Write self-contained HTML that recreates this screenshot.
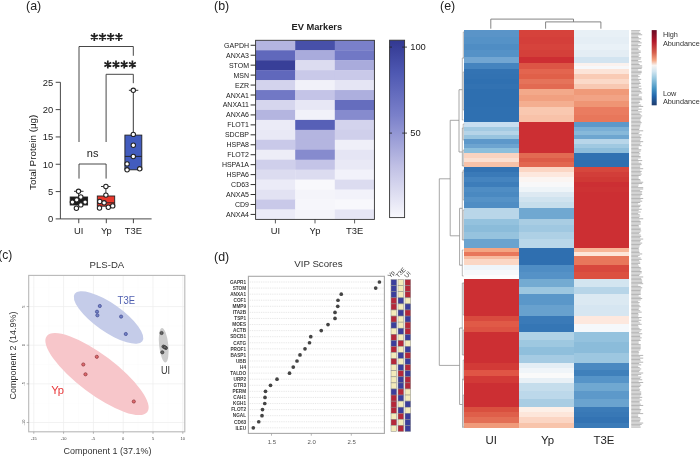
<!DOCTYPE html>
<html><head><meta charset="utf-8"><style>html,body{margin:0;padding:0;background:#fff;}svg{display:block;will-change:transform;}</style></head>
<body><svg width="700" height="457" viewBox="0 0 700 457">
<rect width="700" height="457" fill="#fff"/>
<text x="26.1" y="9.9" font-size="12.4" fill="#222" font-family="Liberation Sans, sans-serif">(a)</text>
<g stroke="#333" stroke-width="0.9" fill="none">
<path d="M60.4 82.30 V218.9 H151.6"/>
<path d="M55.7 218.90 H60.4"/>
<path d="M55.7 191.58 H60.4"/>
<path d="M55.7 164.26 H60.4"/>
<path d="M55.7 136.94 H60.4"/>
<path d="M55.7 109.62 H60.4"/>
<path d="M55.7 82.30 H60.4"/>
<path d="M78.75 218.9 V223.2"/>
<path d="M106.3 218.9 V223.2"/>
<path d="M133.4 218.9 V223.2"/>
<path d="M79 142 V46.5 H133.3 V55.8"/>
<path d="M106.1 142 V74.3 H133.3 V83.2"/>
<path d="M79 178.6 V164 H106.1 V178.6"/>
</g>
<text x="53.2" y="222.30" font-size="9.4" text-anchor="end" fill="#222" font-family="Liberation Sans, sans-serif">0</text>
<text x="53.2" y="194.98" font-size="9.4" text-anchor="end" fill="#222" font-family="Liberation Sans, sans-serif">5</text>
<text x="53.2" y="167.66" font-size="9.4" text-anchor="end" fill="#222" font-family="Liberation Sans, sans-serif">10</text>
<text x="53.2" y="140.34" font-size="9.4" text-anchor="end" fill="#222" font-family="Liberation Sans, sans-serif">15</text>
<text x="53.2" y="113.02" font-size="9.4" text-anchor="end" fill="#222" font-family="Liberation Sans, sans-serif">20</text>
<text x="53.2" y="85.70" font-size="9.4" text-anchor="end" fill="#222" font-family="Liberation Sans, sans-serif">25</text>
<text transform="translate(36.3,152.3) rotate(-90)" font-size="9.9" text-anchor="middle" fill="#222" font-family="Liberation Sans, sans-serif">Total Protein (μg)</text>
<text x="78.75" y="233.5" font-size="9.4" text-anchor="middle" fill="#222" font-family="Liberation Sans, sans-serif">UI</text>
<text x="106.3" y="233.5" font-size="9.4" text-anchor="middle" fill="#222" font-family="Liberation Sans, sans-serif">Yp</text>
<text x="133.4" y="233.5" font-size="9.4" text-anchor="middle" fill="#222" font-family="Liberation Sans, sans-serif">T3E</text>
<path d="M94.30 33.05 L94.30 40.95 M90.88 35.02 L97.72 38.98 M90.88 38.98 L97.72 35.02 M102.50 33.05 L102.50 40.95 M99.08 35.02 L105.92 38.98 M99.08 38.98 L105.92 35.02 M110.70 33.05 L110.70 40.95 M107.28 35.02 L114.12 38.98 M107.28 38.98 L114.12 35.02 M118.90 33.05 L118.90 40.95 M115.48 35.02 L122.32 38.98 M115.48 38.98 L122.32 35.02 M107.80 60.55 L107.80 68.45 M104.38 62.52 L111.22 66.47 M104.38 66.47 L111.22 62.52 M116.00 60.55 L116.00 68.45 M112.58 62.52 L119.42 66.47 M112.58 66.47 L119.42 62.52 M124.20 60.55 L124.20 68.45 M120.78 62.52 L127.62 66.47 M120.78 66.47 L127.62 62.52 M132.40 60.55 L132.40 68.45 M128.98 62.52 L135.82 66.47 M128.98 66.47 L135.82 62.52 " stroke="#222" stroke-width="1.7" fill="none"/>
<text x="92.6" y="157.3" font-size="11" text-anchor="middle" fill="#222" font-family="Liberation Sans, sans-serif">ns</text>
<g stroke="#222" stroke-width="0.9">
<path d="M78.6 197 V191.3 M74 191.3 H83.5" fill="none"/>
<rect x="70.2" y="197" width="17.4" height="8" fill="#1a1a1a"/>
<path d="M105.9 196 V186.5 M101 186.5 H110.6" fill="none"/>
<rect x="97.3" y="196" width="17.4" height="10.2" fill="#e8382c"/>
<path d="M97.3 202.8 H114.7" fill="none"/>
<path d="M133.3 135.1 V90.3 M128.9 90.3 H138.3" fill="none"/>
<rect x="124.9" y="135.1" width="16.9" height="34.7" fill="#425cbe"/>
<path d="M124.9 156.4 H141.8" fill="none"/>
<circle cx="78.5" cy="191.3" r="2.2" fill="#fff" stroke-width="1.05"/>
<circle cx="80.8" cy="197" r="2.2" fill="#fff" stroke-width="1.05"/>
<circle cx="76.7" cy="199.8" r="2.2" fill="#fff" stroke-width="1.05"/>
<circle cx="72.4" cy="202.1" r="2.2" fill="#fff" stroke-width="1.05"/>
<circle cx="85.1" cy="202.1" r="2.2" fill="#fff" stroke-width="1.05"/>
<circle cx="80.8" cy="204.9" r="2.2" fill="#fff" stroke-width="1.05"/>
<circle cx="76.4" cy="208.25" r="2.2" fill="#fff" stroke-width="1.05"/>
<circle cx="105.9" cy="186.5" r="2.2" fill="#fff" stroke-width="1.05"/>
<circle cx="105.9" cy="195.1" r="2.2" fill="#fff" stroke-width="1.05"/>
<circle cx="99.8" cy="201.5" r="2.2" fill="#fff" stroke-width="1.05"/>
<circle cx="104.1" cy="202.8" r="2.2" fill="#fff" stroke-width="1.05"/>
<circle cx="99.5" cy="208" r="2.2" fill="#fff" stroke-width="1.05"/>
<circle cx="108.3" cy="207.2" r="2.2" fill="#fff" stroke-width="1.05"/>
<circle cx="112.7" cy="205.9" r="2.2" fill="#fff" stroke-width="1.05"/>
<circle cx="133.3" cy="90.3" r="2.2" fill="#fff" stroke-width="1.05"/>
<circle cx="133.3" cy="134.4" r="2.2" fill="#fff" stroke-width="1.05"/>
<circle cx="133.3" cy="145.2" r="2.2" fill="#fff" stroke-width="1.05"/>
<circle cx="133.3" cy="156.5" r="2.2" fill="#fff" stroke-width="1.05"/>
<circle cx="127.1" cy="163.9" r="2.2" fill="#fff" stroke-width="1.05"/>
<circle cx="127.1" cy="169.8" r="2.2" fill="#fff" stroke-width="1.05"/>
<circle cx="139.7" cy="168.8" r="2.2" fill="#fff" stroke-width="1.05"/>
</g>
<text x="214.0" y="9.9" font-size="12.4" fill="#222" font-family="Liberation Sans, sans-serif">(b)</text>
<text x="316.8" y="30.3" font-size="9.3" font-weight="bold" text-anchor="middle" fill="#222" font-family="Liberation Sans, sans-serif">EV Markers</text>
<rect x="255.60" y="40.30" width="39.90" height="10.25" fill="#b4b5e0"/>
<rect x="295.20" y="40.30" width="39.90" height="10.25" fill="#4750a9"/>
<rect x="334.80" y="40.30" width="39.90" height="10.25" fill="#7a80ca"/>
<text x="249.0" y="47.77" font-size="7" text-anchor="end" fill="#1a1a1a" font-family="Liberation Sans, sans-serif">GAPDH</text>
<path d="M250.6 45.27 H255.6" stroke="#222" stroke-width="0.95"/>
<rect x="255.60" y="50.25" width="39.90" height="10.25" fill="#6068bc"/>
<rect x="295.20" y="50.25" width="39.90" height="10.25" fill="#a9abdc"/>
<rect x="334.80" y="50.25" width="39.90" height="10.25" fill="#7178c5"/>
<text x="249.0" y="57.73" font-size="7" text-anchor="end" fill="#1a1a1a" font-family="Liberation Sans, sans-serif">ANXA3</text>
<path d="M250.6 55.23 H255.6" stroke="#222" stroke-width="0.95"/>
<rect x="255.60" y="60.20" width="39.90" height="10.25" fill="#383f98"/>
<rect x="295.20" y="60.20" width="39.90" height="10.25" fill="#dcdcf0"/>
<rect x="334.80" y="60.20" width="39.90" height="10.25" fill="#a9abdc"/>
<text x="249.0" y="67.67" font-size="7" text-anchor="end" fill="#1a1a1a" font-family="Liberation Sans, sans-serif">STOM</text>
<path d="M250.6 65.17 H255.6" stroke="#222" stroke-width="0.95"/>
<rect x="255.60" y="70.15" width="39.90" height="10.25" fill="#6068bc"/>
<rect x="295.20" y="70.15" width="39.90" height="10.25" fill="#c9c9e9"/>
<rect x="334.80" y="70.15" width="39.90" height="10.25" fill="#c9c9e9"/>
<text x="249.0" y="77.62" font-size="7" text-anchor="end" fill="#1a1a1a" font-family="Liberation Sans, sans-serif">MSN</text>
<path d="M250.6 75.12 H255.6" stroke="#222" stroke-width="0.95"/>
<rect x="255.60" y="80.10" width="39.90" height="10.25" fill="#d3d3ed"/>
<rect x="295.20" y="80.10" width="39.90" height="10.25" fill="#f1f1f9"/>
<rect x="334.80" y="80.10" width="39.90" height="10.25" fill="#e5e5f4"/>
<text x="249.0" y="87.57" font-size="7" text-anchor="end" fill="#1a1a1a" font-family="Liberation Sans, sans-serif">EZR</text>
<path d="M250.6 85.07 H255.6" stroke="#222" stroke-width="0.95"/>
<rect x="255.60" y="90.05" width="39.90" height="10.25" fill="#7178c5"/>
<rect x="295.20" y="90.05" width="39.90" height="10.25" fill="#c4c4e7"/>
<rect x="334.80" y="90.05" width="39.90" height="10.25" fill="#adafde"/>
<text x="249.0" y="97.52" font-size="7" text-anchor="end" fill="#1a1a1a" font-family="Liberation Sans, sans-serif">ANXA1</text>
<path d="M250.6 95.02 H255.6" stroke="#222" stroke-width="0.95"/>
<rect x="255.60" y="100.00" width="39.90" height="10.25" fill="#d6d6ee"/>
<rect x="295.20" y="100.00" width="39.90" height="10.25" fill="#e7e7f5"/>
<rect x="334.80" y="100.00" width="39.90" height="10.25" fill="#656dbe"/>
<text x="249.0" y="107.47" font-size="7" text-anchor="end" fill="#1a1a1a" font-family="Liberation Sans, sans-serif">ANXA11</text>
<path d="M250.6 104.97 H255.6" stroke="#222" stroke-width="0.95"/>
<rect x="255.60" y="109.95" width="39.90" height="10.25" fill="#b4b5e0"/>
<rect x="295.20" y="109.95" width="39.90" height="10.25" fill="#f1f1f9"/>
<rect x="334.80" y="109.95" width="39.90" height="10.25" fill="#868bce"/>
<text x="249.0" y="117.42" font-size="7" text-anchor="end" fill="#1a1a1a" font-family="Liberation Sans, sans-serif">ANXA6</text>
<path d="M250.6 114.92 H255.6" stroke="#222" stroke-width="0.95"/>
<rect x="255.60" y="119.90" width="39.90" height="10.25" fill="#ebebf7"/>
<rect x="295.20" y="119.90" width="39.90" height="10.25" fill="#5760b7"/>
<rect x="334.80" y="119.90" width="39.90" height="10.25" fill="#d3d3ed"/>
<text x="249.0" y="127.37" font-size="7" text-anchor="end" fill="#1a1a1a" font-family="Liberation Sans, sans-serif">FLOT1</text>
<path d="M250.6 124.87 H255.6" stroke="#222" stroke-width="0.95"/>
<rect x="255.60" y="129.85" width="39.90" height="10.25" fill="#e9e9f6"/>
<rect x="295.20" y="129.85" width="39.90" height="10.25" fill="#b4b5e0"/>
<rect x="334.80" y="129.85" width="39.90" height="10.25" fill="#cfcfeb"/>
<text x="249.0" y="137.32" font-size="7" text-anchor="end" fill="#1a1a1a" font-family="Liberation Sans, sans-serif">SDCBP</text>
<path d="M250.6 134.82 H255.6" stroke="#222" stroke-width="0.95"/>
<rect x="255.60" y="139.80" width="39.90" height="10.25" fill="#c9c9e9"/>
<rect x="295.20" y="139.80" width="39.90" height="10.25" fill="#b4b5e0"/>
<rect x="334.80" y="139.80" width="39.90" height="10.25" fill="#efeff8"/>
<text x="249.0" y="147.28" font-size="7" text-anchor="end" fill="#1a1a1a" font-family="Liberation Sans, sans-serif">HSPA8</text>
<path d="M250.6 144.78 H255.6" stroke="#222" stroke-width="0.95"/>
<rect x="255.60" y="149.75" width="39.90" height="10.25" fill="#ededf7"/>
<rect x="295.20" y="149.75" width="39.90" height="10.25" fill="#868bce"/>
<rect x="334.80" y="149.75" width="39.90" height="10.25" fill="#e5e5f4"/>
<text x="249.0" y="157.22" font-size="7" text-anchor="end" fill="#1a1a1a" font-family="Liberation Sans, sans-serif">FLOT2</text>
<path d="M250.6 154.72 H255.6" stroke="#222" stroke-width="0.95"/>
<rect x="255.60" y="159.70" width="39.90" height="10.25" fill="#cfcfeb"/>
<rect x="295.20" y="159.70" width="39.90" height="10.25" fill="#c4c4e7"/>
<rect x="334.80" y="159.70" width="39.90" height="10.25" fill="#e9e9f6"/>
<text x="249.0" y="167.17" font-size="7" text-anchor="end" fill="#1a1a1a" font-family="Liberation Sans, sans-serif">HSPA1A</text>
<path d="M250.6 164.67 H255.6" stroke="#222" stroke-width="0.95"/>
<rect x="255.60" y="169.65" width="39.90" height="10.25" fill="#dcdcf0"/>
<rect x="295.20" y="169.65" width="39.90" height="10.25" fill="#dcdcf0"/>
<rect x="334.80" y="169.65" width="39.90" height="10.25" fill="#f2f2fa"/>
<text x="249.0" y="177.12" font-size="7" text-anchor="end" fill="#1a1a1a" font-family="Liberation Sans, sans-serif">HSPA6</text>
<path d="M250.6 174.62 H255.6" stroke="#222" stroke-width="0.95"/>
<rect x="255.60" y="179.60" width="39.90" height="10.25" fill="#ebebf7"/>
<rect x="295.20" y="179.60" width="39.90" height="10.25" fill="#f8f8fc"/>
<rect x="334.80" y="179.60" width="39.90" height="10.25" fill="#dcdcf0"/>
<text x="249.0" y="187.07" font-size="7" text-anchor="end" fill="#1a1a1a" font-family="Liberation Sans, sans-serif">CD63</text>
<path d="M250.6 184.57 H255.6" stroke="#222" stroke-width="0.95"/>
<rect x="255.60" y="189.55" width="39.90" height="10.25" fill="#e2e2f3"/>
<rect x="295.20" y="189.55" width="39.90" height="10.25" fill="#f4f4fa"/>
<rect x="334.80" y="189.55" width="39.90" height="10.25" fill="#f2f2fa"/>
<text x="249.0" y="197.03" font-size="7" text-anchor="end" fill="#1a1a1a" font-family="Liberation Sans, sans-serif">ANXA5</text>
<path d="M250.6 194.53 H255.6" stroke="#222" stroke-width="0.95"/>
<rect x="255.60" y="199.50" width="39.90" height="10.25" fill="#c9c9e9"/>
<rect x="295.20" y="199.50" width="39.90" height="10.25" fill="#f6f6fb"/>
<rect x="334.80" y="199.50" width="39.90" height="10.25" fill="#f8f8fc"/>
<text x="249.0" y="206.97" font-size="7" text-anchor="end" fill="#1a1a1a" font-family="Liberation Sans, sans-serif">CD9</text>
<path d="M250.6 204.47 H255.6" stroke="#222" stroke-width="0.95"/>
<rect x="255.60" y="209.45" width="39.90" height="10.25" fill="#ebebf7"/>
<rect x="295.20" y="209.45" width="39.90" height="10.25" fill="#f4f4fa"/>
<rect x="334.80" y="209.45" width="39.90" height="10.25" fill="#e5e5f4"/>
<text x="249.0" y="216.92" font-size="7" text-anchor="end" fill="#1a1a1a" font-family="Liberation Sans, sans-serif">ANXA4</text>
<path d="M250.6 214.42 H255.6" stroke="#222" stroke-width="0.95"/>
<rect x="255.6" y="40.3" width="118.80000000000001" height="179.1" fill="none" stroke="#333" stroke-width="0.9"/>
<path d="M275.40 219.40 V223.40" stroke="#333" stroke-width="0.8"/>
<text x="275.40" y="233.8" font-size="9.4" text-anchor="middle" fill="#222" font-family="Liberation Sans, sans-serif">UI</text>
<path d="M315.00 219.40 V223.40" stroke="#333" stroke-width="0.8"/>
<text x="315.00" y="233.8" font-size="9.4" text-anchor="middle" fill="#222" font-family="Liberation Sans, sans-serif">Yp</text>
<path d="M354.60 219.40 V223.40" stroke="#333" stroke-width="0.8"/>
<text x="354.60" y="233.8" font-size="9.4" text-anchor="middle" fill="#222" font-family="Liberation Sans, sans-serif">T3E</text>
<defs><linearGradient id="cb" x1="0" y1="0" x2="0" y2="1"><stop offset="0" stop-color="#323891"/><stop offset="0.1827" stop-color="#4e58b2"/><stop offset="0.4231" stop-color="#7a80ca"/><stop offset="0.7115" stop-color="#c0c0e5"/><stop offset="1" stop-color="#f8f8fc"/></linearGradient></defs>
<rect x="389.6" y="40.2" width="15" height="177.4" fill="url(#cb)" stroke="#333" stroke-width="0.9"/>
<path d="M389.6 47.1 H392 M402.2 47.1 H404.6 M404.6 47.1 H407" stroke="#222" stroke-width="0.8"/>
<text x="410.2" y="50.4" font-size="9.4" fill="#222" font-family="Liberation Sans, sans-serif">100</text>
<path d="M389.6 133.1 H392 M402.2 133.1 H404.6 M404.6 133.1 H407" stroke="#222" stroke-width="0.8"/>
<text x="410.2" y="136.4" font-size="9.4" fill="#222" font-family="Liberation Sans, sans-serif">50</text>
<text x="-1.8" y="258.5" font-size="12" fill="#222" font-family="Liberation Sans, sans-serif">(c)</text>
<text x="106.9" y="268" font-size="9.6" text-anchor="middle" fill="#333" font-family="Liberation Sans, sans-serif">PLS-DA</text>
<g stroke="#fbfbfb" stroke-width="0.5">
<path d="M48.70 275.4 V431.8"/>
<path d="M78.50 275.4 V431.8"/>
<path d="M108.30 275.4 V431.8"/>
<path d="M138.10 275.4 V431.8"/>
<path d="M167.90 275.4 V431.8"/>
<path d="M28.7 287.22 H184.8"/>
<path d="M28.7 325.88 H184.8"/>
<path d="M28.7 364.52 H184.8"/>
<path d="M28.7 403.18 H184.8"/>
</g><g stroke="#ededed" stroke-width="0.7">
<path d="M33.80 275.4 V431.8"/>
<path d="M63.60 275.4 V431.8"/>
<path d="M93.40 275.4 V431.8"/>
<path d="M123.20 275.4 V431.8"/>
<path d="M153.00 275.4 V431.8"/>
<path d="M182.80 275.4 V431.8"/>
<path d="M28.7 306.55 H184.8"/>
<path d="M28.7 345.20 H184.8"/>
<path d="M28.7 383.85 H184.8"/>
<path d="M28.7 422.50 H184.8"/>
</g>
<ellipse cx="97" cy="374.1" rx="63" ry="19.5" transform="rotate(37 97 374.1)" fill="#f7c6ca"/>
<ellipse cx="108.5" cy="317.5" rx="41.3" ry="14" transform="rotate(35 108.5 317.5)" fill="#c5cce9"/>
<ellipse cx="163.7" cy="345.2" rx="17.4" ry="4.6" transform="rotate(84 163.7 345.2)" fill="#cdcdcd"/>
<circle cx="99.8" cy="306" r="1.6" fill="#7282c4" stroke="#3f4890" stroke-width="0.7"/>
<circle cx="97" cy="311.7" r="1.6" fill="#7282c4" stroke="#3f4890" stroke-width="0.7"/>
<circle cx="97.4" cy="315.3" r="1.6" fill="#7282c4" stroke="#3f4890" stroke-width="0.7"/>
<circle cx="121.1" cy="316.6" r="1.6" fill="#7282c4" stroke="#3f4890" stroke-width="0.7"/>
<circle cx="125.8" cy="334" r="1.6" fill="#7282c4" stroke="#3f4890" stroke-width="0.7"/>
<circle cx="96.8" cy="356.8" r="1.6" fill="#e06a6e" stroke="#8a3036" stroke-width="0.7"/>
<circle cx="83.3" cy="364.5" r="1.6" fill="#e06a6e" stroke="#8a3036" stroke-width="0.7"/>
<circle cx="85.5" cy="374.3" r="1.6" fill="#e06a6e" stroke="#8a3036" stroke-width="0.7"/>
<circle cx="133.8" cy="401.5" r="1.6" fill="#e06a6e" stroke="#8a3036" stroke-width="0.7"/>
<circle cx="161.6" cy="333" r="1.6" fill="#666" stroke="#333" stroke-width="0.7"/>
<circle cx="163.5" cy="346.6" r="1.6" fill="#666" stroke="#333" stroke-width="0.7"/>
<circle cx="165.9" cy="348" r="1.6" fill="#666" stroke="#333" stroke-width="0.7"/>
<circle cx="162.3" cy="352.3" r="1.6" fill="#666" stroke="#333" stroke-width="0.7"/>
<circle cx="164.8" cy="347.2" r="1.6" fill="#666" stroke="#333" stroke-width="0.7"/>
<rect x="28.7" y="275.4" width="156.10000000000002" height="156.40000000000003" fill="none" stroke="#b8b8b8" stroke-width="1.1"/>
<g stroke="#888" stroke-width="0.6">
<path d="M33.80 431.8 V433.8"/>
<path d="M63.60 431.8 V433.8"/>
<path d="M93.40 431.8 V433.8"/>
<path d="M123.20 431.8 V433.8"/>
<path d="M153.00 431.8 V433.8"/>
<path d="M182.80 431.8 V433.8"/>
<path d="M26.7 306.55 H28.7"/>
<path d="M26.7 345.20 H28.7"/>
<path d="M26.7 383.85 H28.7"/>
<path d="M26.7 422.50 H28.7"/>
</g>
<text x="33.80" y="439.6" font-size="4" text-anchor="middle" fill="#444" font-family="Liberation Sans, sans-serif">-15</text>
<text x="63.60" y="439.6" font-size="4" text-anchor="middle" fill="#444" font-family="Liberation Sans, sans-serif">-10</text>
<text x="93.40" y="439.6" font-size="4" text-anchor="middle" fill="#444" font-family="Liberation Sans, sans-serif">-5</text>
<text x="123.20" y="439.6" font-size="4" text-anchor="middle" fill="#444" font-family="Liberation Sans, sans-serif">0</text>
<text x="153.00" y="439.6" font-size="4" text-anchor="middle" fill="#444" font-family="Liberation Sans, sans-serif">5</text>
<text x="182.80" y="439.6" font-size="4" text-anchor="middle" fill="#444" font-family="Liberation Sans, sans-serif">10</text>
<text transform="translate(24.6,306.55) rotate(-90)" font-size="4" text-anchor="middle" fill="#444" font-family="Liberation Sans, sans-serif">5</text>
<text transform="translate(24.6,345.20) rotate(-90)" font-size="4" text-anchor="middle" fill="#444" font-family="Liberation Sans, sans-serif">0</text>
<text transform="translate(24.6,383.85) rotate(-90)" font-size="4" text-anchor="middle" fill="#444" font-family="Liberation Sans, sans-serif">-5</text>
<text transform="translate(24.6,422.50) rotate(-90)" font-size="4" text-anchor="middle" fill="#444" font-family="Liberation Sans, sans-serif">-10</text>
<text x="117.6" y="303.6" font-size="11.6" textLength="17.4" lengthAdjust="spacingAndGlyphs" fill="#4f5fb0" font-family="Liberation Sans, sans-serif">T3E</text>
<text x="51.2" y="393.6" font-size="11" textLength="12.9" lengthAdjust="spacingAndGlyphs" fill="#e8383a" font-family="Liberation Sans, sans-serif">Yp</text>
<text x="161" y="374" font-size="11" textLength="9.1" lengthAdjust="spacingAndGlyphs" fill="#333" font-family="Liberation Sans, sans-serif">UI</text>
<text x="107.5" y="454.2" font-size="9" text-anchor="middle" fill="#333" font-family="Liberation Sans, sans-serif">Component 1 (37.1%)</text>
<text transform="translate(15.9,355.5) rotate(-90)" font-size="9" text-anchor="middle" fill="#333" font-family="Liberation Sans, sans-serif">Component 2 (14.9%)</text>
<text x="214.1" y="261.0" font-size="12.4" fill="#222" font-family="Liberation Sans, sans-serif">(d)</text>
<text x="318.4" y="267.4" font-size="9.7" text-anchor="middle" fill="#333" font-family="Liberation Sans, sans-serif">VIP Scores</text>
<g stroke="#d4d4d4" stroke-width="0.6" stroke-dasharray="0.9 0.9">
<path d="M248.4 282.00 H384.4"/>
<path d="M248.4 288.08 H384.4"/>
<path d="M248.4 294.15 H384.4"/>
<path d="M248.4 300.23 H384.4"/>
<path d="M248.4 306.30 H384.4"/>
<path d="M248.4 312.38 H384.4"/>
<path d="M248.4 318.46 H384.4"/>
<path d="M248.4 324.53 H384.4"/>
<path d="M248.4 330.61 H384.4"/>
<path d="M248.4 336.68 H384.4"/>
<path d="M248.4 342.76 H384.4"/>
<path d="M248.4 348.84 H384.4"/>
<path d="M248.4 354.91 H384.4"/>
<path d="M248.4 360.99 H384.4"/>
<path d="M248.4 367.06 H384.4"/>
<path d="M248.4 373.14 H384.4"/>
<path d="M248.4 379.22 H384.4"/>
<path d="M248.4 385.29 H384.4"/>
<path d="M248.4 391.37 H384.4"/>
<path d="M248.4 397.44 H384.4"/>
<path d="M248.4 403.52 H384.4"/>
<path d="M248.4 409.60 H384.4"/>
<path d="M248.4 415.67 H384.4"/>
<path d="M248.4 421.75 H384.4"/>
<path d="M248.4 427.82 H384.4"/>
</g>
<circle cx="379.4" cy="282.00" r="1.85" fill="#444"/>
<text x="246.1" y="283.75" font-size="4.7" font-weight="bold" text-anchor="end" fill="#3a3a3a" font-family="Liberation Sans, sans-serif">GAPR1</text>
<circle cx="375.7" cy="288.08" r="1.85" fill="#444"/>
<text x="246.1" y="289.83" font-size="4.7" font-weight="bold" text-anchor="end" fill="#3a3a3a" font-family="Liberation Sans, sans-serif">STOM</text>
<circle cx="341.25" cy="294.15" r="1.85" fill="#444"/>
<text x="246.1" y="295.90" font-size="4.7" font-weight="bold" text-anchor="end" fill="#3a3a3a" font-family="Liberation Sans, sans-serif">ANXA1</text>
<circle cx="338" cy="300.23" r="1.85" fill="#444"/>
<text x="246.1" y="301.98" font-size="4.7" font-weight="bold" text-anchor="end" fill="#3a3a3a" font-family="Liberation Sans, sans-serif">COF1</text>
<circle cx="337.75" cy="306.30" r="1.85" fill="#444"/>
<text x="246.1" y="308.05" font-size="4.7" font-weight="bold" text-anchor="end" fill="#3a3a3a" font-family="Liberation Sans, sans-serif">MMP9</text>
<circle cx="335" cy="312.38" r="1.85" fill="#444"/>
<text x="246.1" y="314.13" font-size="4.7" font-weight="bold" text-anchor="end" fill="#3a3a3a" font-family="Liberation Sans, sans-serif">ITA2B</text>
<circle cx="335" cy="318.46" r="1.85" fill="#444"/>
<text x="246.1" y="320.21" font-size="4.7" font-weight="bold" text-anchor="end" fill="#3a3a3a" font-family="Liberation Sans, sans-serif">TSP1</text>
<circle cx="328" cy="324.53" r="1.85" fill="#444"/>
<text x="246.1" y="326.28" font-size="4.7" font-weight="bold" text-anchor="end" fill="#3a3a3a" font-family="Liberation Sans, sans-serif">MOES</text>
<circle cx="321.25" cy="330.61" r="1.85" fill="#444"/>
<text x="246.1" y="332.36" font-size="4.7" font-weight="bold" text-anchor="end" fill="#3a3a3a" font-family="Liberation Sans, sans-serif">ACTB</text>
<circle cx="310.75" cy="336.68" r="1.85" fill="#444"/>
<text x="246.1" y="338.43" font-size="4.7" font-weight="bold" text-anchor="end" fill="#3a3a3a" font-family="Liberation Sans, sans-serif">SDCB1</text>
<circle cx="309.5" cy="342.76" r="1.85" fill="#444"/>
<text x="246.1" y="344.51" font-size="4.7" font-weight="bold" text-anchor="end" fill="#3a3a3a" font-family="Liberation Sans, sans-serif">CATG</text>
<circle cx="305" cy="348.84" r="1.85" fill="#444"/>
<text x="246.1" y="350.59" font-size="4.7" font-weight="bold" text-anchor="end" fill="#3a3a3a" font-family="Liberation Sans, sans-serif">PROF1</text>
<circle cx="300" cy="354.91" r="1.85" fill="#444"/>
<text x="246.1" y="356.66" font-size="4.7" font-weight="bold" text-anchor="end" fill="#3a3a3a" font-family="Liberation Sans, sans-serif">BASP1</text>
<circle cx="297" cy="360.99" r="1.85" fill="#444"/>
<text x="246.1" y="362.74" font-size="4.7" font-weight="bold" text-anchor="end" fill="#3a3a3a" font-family="Liberation Sans, sans-serif">UBB</text>
<circle cx="293.25" cy="367.06" r="1.85" fill="#444"/>
<text x="246.1" y="368.81" font-size="4.7" font-weight="bold" text-anchor="end" fill="#3a3a3a" font-family="Liberation Sans, sans-serif">H4</text>
<circle cx="289.5" cy="373.14" r="1.85" fill="#444"/>
<text x="246.1" y="374.89" font-size="4.7" font-weight="bold" text-anchor="end" fill="#3a3a3a" font-family="Liberation Sans, sans-serif">TALDO</text>
<circle cx="277" cy="379.22" r="1.85" fill="#444"/>
<text x="246.1" y="380.97" font-size="4.7" font-weight="bold" text-anchor="end" fill="#3a3a3a" font-family="Liberation Sans, sans-serif">URP2</text>
<circle cx="270.5" cy="385.29" r="1.85" fill="#444"/>
<text x="246.1" y="387.04" font-size="4.7" font-weight="bold" text-anchor="end" fill="#3a3a3a" font-family="Liberation Sans, sans-serif">GTR3</text>
<circle cx="265.5" cy="391.37" r="1.85" fill="#444"/>
<text x="246.1" y="393.12" font-size="4.7" font-weight="bold" text-anchor="end" fill="#3a3a3a" font-family="Liberation Sans, sans-serif">PERM</text>
<circle cx="265" cy="397.44" r="1.85" fill="#444"/>
<text x="246.1" y="399.19" font-size="4.7" font-weight="bold" text-anchor="end" fill="#3a3a3a" font-family="Liberation Sans, sans-serif">CAH1</text>
<circle cx="264.75" cy="403.52" r="1.85" fill="#444"/>
<text x="246.1" y="405.27" font-size="4.7" font-weight="bold" text-anchor="end" fill="#3a3a3a" font-family="Liberation Sans, sans-serif">KGH1</text>
<circle cx="262.5" cy="409.60" r="1.85" fill="#444"/>
<text x="246.1" y="411.35" font-size="4.7" font-weight="bold" text-anchor="end" fill="#3a3a3a" font-family="Liberation Sans, sans-serif">FLOT2</text>
<circle cx="262" cy="415.67" r="1.85" fill="#444"/>
<text x="246.1" y="417.42" font-size="4.7" font-weight="bold" text-anchor="end" fill="#3a3a3a" font-family="Liberation Sans, sans-serif">NGAL</text>
<circle cx="258.75" cy="421.75" r="1.85" fill="#444"/>
<text x="246.1" y="423.50" font-size="4.7" font-weight="bold" text-anchor="end" fill="#3a3a3a" font-family="Liberation Sans, sans-serif">CD63</text>
<circle cx="253.3" cy="427.82" r="1.85" fill="#444"/>
<text x="246.1" y="429.57" font-size="4.7" font-weight="bold" text-anchor="end" fill="#3a3a3a" font-family="Liberation Sans, sans-serif">ILEU</text>
<rect x="248.4" y="276.3" width="135.99999999999997" height="157.09999999999997" fill="none" stroke="#a8a8a8" stroke-width="1.1"/>
<path d="M271.5 433.4 V435.7" stroke="#999" stroke-width="0.7"/>
<text x="271.9" y="443.6" font-size="6" text-anchor="middle" fill="#555" font-family="Liberation Sans, sans-serif">1.5</text>
<path d="M311.3 433.4 V435.7" stroke="#999" stroke-width="0.7"/>
<text x="311.7" y="443.6" font-size="6" text-anchor="middle" fill="#555" font-family="Liberation Sans, sans-serif">2.0</text>
<path d="M351.3 433.4 V435.7" stroke="#999" stroke-width="0.7"/>
<text x="351.7" y="443.6" font-size="6" text-anchor="middle" fill="#555" font-family="Liberation Sans, sans-serif">2.5</text>
<rect x="391.0" y="279.60" width="5.7" height="6.076" fill="#3b3e9c" stroke="#8a8a8a" stroke-width="0.5"/>
<rect x="398.0" y="279.60" width="5.7" height="6.076" fill="#f3ebba" stroke="#8a8a8a" stroke-width="0.5"/>
<rect x="405.0" y="279.60" width="5.7" height="6.076" fill="#b5283a" stroke="#8a8a8a" stroke-width="0.5"/>
<rect x="391.0" y="285.68" width="5.7" height="6.076" fill="#3b3e9c" stroke="#8a8a8a" stroke-width="0.5"/>
<rect x="398.0" y="285.68" width="5.7" height="6.076" fill="#f3ebba" stroke="#8a8a8a" stroke-width="0.5"/>
<rect x="405.0" y="285.68" width="5.7" height="6.076" fill="#b5283a" stroke="#8a8a8a" stroke-width="0.5"/>
<rect x="391.0" y="291.75" width="5.7" height="6.076" fill="#3b3e9c" stroke="#8a8a8a" stroke-width="0.5"/>
<rect x="398.0" y="291.75" width="5.7" height="6.076" fill="#f3ebba" stroke="#8a8a8a" stroke-width="0.5"/>
<rect x="405.0" y="291.75" width="5.7" height="6.076" fill="#b5283a" stroke="#8a8a8a" stroke-width="0.5"/>
<rect x="391.0" y="297.83" width="5.7" height="6.076" fill="#b5283a" stroke="#8a8a8a" stroke-width="0.5"/>
<rect x="398.0" y="297.83" width="5.7" height="6.076" fill="#3b3e9c" stroke="#8a8a8a" stroke-width="0.5"/>
<rect x="405.0" y="297.83" width="5.7" height="6.076" fill="#f3ebba" stroke="#8a8a8a" stroke-width="0.5"/>
<rect x="391.0" y="303.90" width="5.7" height="6.076" fill="#b5283a" stroke="#8a8a8a" stroke-width="0.5"/>
<rect x="398.0" y="303.90" width="5.7" height="6.076" fill="#f3ebba" stroke="#8a8a8a" stroke-width="0.5"/>
<rect x="405.0" y="303.90" width="5.7" height="6.076" fill="#3b3e9c" stroke="#8a8a8a" stroke-width="0.5"/>
<rect x="391.0" y="309.98" width="5.7" height="6.076" fill="#f3ebba" stroke="#8a8a8a" stroke-width="0.5"/>
<rect x="398.0" y="309.98" width="5.7" height="6.076" fill="#3b3e9c" stroke="#8a8a8a" stroke-width="0.5"/>
<rect x="405.0" y="309.98" width="5.7" height="6.076" fill="#b5283a" stroke="#8a8a8a" stroke-width="0.5"/>
<rect x="391.0" y="316.06" width="5.7" height="6.076" fill="#b5283a" stroke="#8a8a8a" stroke-width="0.5"/>
<rect x="398.0" y="316.06" width="5.7" height="6.076" fill="#f3ebba" stroke="#8a8a8a" stroke-width="0.5"/>
<rect x="405.0" y="316.06" width="5.7" height="6.076" fill="#3b3e9c" stroke="#8a8a8a" stroke-width="0.5"/>
<rect x="391.0" y="322.13" width="5.7" height="6.076" fill="#3b3e9c" stroke="#8a8a8a" stroke-width="0.5"/>
<rect x="398.0" y="322.13" width="5.7" height="6.076" fill="#f3ebba" stroke="#8a8a8a" stroke-width="0.5"/>
<rect x="405.0" y="322.13" width="5.7" height="6.076" fill="#b5283a" stroke="#8a8a8a" stroke-width="0.5"/>
<rect x="391.0" y="328.21" width="5.7" height="6.076" fill="#f3ebba" stroke="#8a8a8a" stroke-width="0.5"/>
<rect x="398.0" y="328.21" width="5.7" height="6.076" fill="#3b3e9c" stroke="#8a8a8a" stroke-width="0.5"/>
<rect x="405.0" y="328.21" width="5.7" height="6.076" fill="#b5283a" stroke="#8a8a8a" stroke-width="0.5"/>
<rect x="391.0" y="334.28" width="5.7" height="6.076" fill="#b5283a" stroke="#8a8a8a" stroke-width="0.5"/>
<rect x="398.0" y="334.28" width="5.7" height="6.076" fill="#f3ebba" stroke="#8a8a8a" stroke-width="0.5"/>
<rect x="405.0" y="334.28" width="5.7" height="6.076" fill="#3b3e9c" stroke="#8a8a8a" stroke-width="0.5"/>
<rect x="391.0" y="340.36" width="5.7" height="6.076" fill="#3b3e9c" stroke="#8a8a8a" stroke-width="0.5"/>
<rect x="398.0" y="340.36" width="5.7" height="6.076" fill="#b5283a" stroke="#8a8a8a" stroke-width="0.5"/>
<rect x="405.0" y="340.36" width="5.7" height="6.076" fill="#f3ebba" stroke="#8a8a8a" stroke-width="0.5"/>
<rect x="391.0" y="346.44" width="5.7" height="6.076" fill="#b5283a" stroke="#8a8a8a" stroke-width="0.5"/>
<rect x="398.0" y="346.44" width="5.7" height="6.076" fill="#f3ebba" stroke="#8a8a8a" stroke-width="0.5"/>
<rect x="405.0" y="346.44" width="5.7" height="6.076" fill="#3b3e9c" stroke="#8a8a8a" stroke-width="0.5"/>
<rect x="391.0" y="352.51" width="5.7" height="6.076" fill="#f3ebba" stroke="#8a8a8a" stroke-width="0.5"/>
<rect x="398.0" y="352.51" width="5.7" height="6.076" fill="#3b3e9c" stroke="#8a8a8a" stroke-width="0.5"/>
<rect x="405.0" y="352.51" width="5.7" height="6.076" fill="#b5283a" stroke="#8a8a8a" stroke-width="0.5"/>
<rect x="391.0" y="358.59" width="5.7" height="6.076" fill="#b5283a" stroke="#8a8a8a" stroke-width="0.5"/>
<rect x="398.0" y="358.59" width="5.7" height="6.076" fill="#f3ebba" stroke="#8a8a8a" stroke-width="0.5"/>
<rect x="405.0" y="358.59" width="5.7" height="6.076" fill="#3b3e9c" stroke="#8a8a8a" stroke-width="0.5"/>
<rect x="391.0" y="364.66" width="5.7" height="6.076" fill="#f3ebba" stroke="#8a8a8a" stroke-width="0.5"/>
<rect x="398.0" y="364.66" width="5.7" height="6.076" fill="#3b3e9c" stroke="#8a8a8a" stroke-width="0.5"/>
<rect x="405.0" y="364.66" width="5.7" height="6.076" fill="#b5283a" stroke="#8a8a8a" stroke-width="0.5"/>
<rect x="391.0" y="370.74" width="5.7" height="6.076" fill="#f3ebba" stroke="#8a8a8a" stroke-width="0.5"/>
<rect x="398.0" y="370.74" width="5.7" height="6.076" fill="#b5283a" stroke="#8a8a8a" stroke-width="0.5"/>
<rect x="405.0" y="370.74" width="5.7" height="6.076" fill="#3b3e9c" stroke="#8a8a8a" stroke-width="0.5"/>
<rect x="391.0" y="376.82" width="5.7" height="6.076" fill="#f3ebba" stroke="#8a8a8a" stroke-width="0.5"/>
<rect x="398.0" y="376.82" width="5.7" height="6.076" fill="#3b3e9c" stroke="#8a8a8a" stroke-width="0.5"/>
<rect x="405.0" y="376.82" width="5.7" height="6.076" fill="#b5283a" stroke="#8a8a8a" stroke-width="0.5"/>
<rect x="391.0" y="382.89" width="5.7" height="6.076" fill="#f3ebba" stroke="#8a8a8a" stroke-width="0.5"/>
<rect x="398.0" y="382.89" width="5.7" height="6.076" fill="#3b3e9c" stroke="#8a8a8a" stroke-width="0.5"/>
<rect x="405.0" y="382.89" width="5.7" height="6.076" fill="#b5283a" stroke="#8a8a8a" stroke-width="0.5"/>
<rect x="391.0" y="388.97" width="5.7" height="6.076" fill="#3b3e9c" stroke="#8a8a8a" stroke-width="0.5"/>
<rect x="398.0" y="388.97" width="5.7" height="6.076" fill="#b5283a" stroke="#8a8a8a" stroke-width="0.5"/>
<rect x="405.0" y="388.97" width="5.7" height="6.076" fill="#f3ebba" stroke="#8a8a8a" stroke-width="0.5"/>
<rect x="391.0" y="395.04" width="5.7" height="6.076" fill="#b5283a" stroke="#8a8a8a" stroke-width="0.5"/>
<rect x="398.0" y="395.04" width="5.7" height="6.076" fill="#3b3e9c" stroke="#8a8a8a" stroke-width="0.5"/>
<rect x="405.0" y="395.04" width="5.7" height="6.076" fill="#f3ebba" stroke="#8a8a8a" stroke-width="0.5"/>
<rect x="391.0" y="401.12" width="5.7" height="6.076" fill="#b5283a" stroke="#8a8a8a" stroke-width="0.5"/>
<rect x="398.0" y="401.12" width="5.7" height="6.076" fill="#f3ebba" stroke="#8a8a8a" stroke-width="0.5"/>
<rect x="405.0" y="401.12" width="5.7" height="6.076" fill="#3b3e9c" stroke="#8a8a8a" stroke-width="0.5"/>
<rect x="391.0" y="407.20" width="5.7" height="6.076" fill="#b5283a" stroke="#8a8a8a" stroke-width="0.5"/>
<rect x="398.0" y="407.20" width="5.7" height="6.076" fill="#3b3e9c" stroke="#8a8a8a" stroke-width="0.5"/>
<rect x="405.0" y="407.20" width="5.7" height="6.076" fill="#f3ebba" stroke="#8a8a8a" stroke-width="0.5"/>
<rect x="391.0" y="413.27" width="5.7" height="6.076" fill="#f3ebba" stroke="#8a8a8a" stroke-width="0.5"/>
<rect x="398.0" y="413.27" width="5.7" height="6.076" fill="#b5283a" stroke="#8a8a8a" stroke-width="0.5"/>
<rect x="405.0" y="413.27" width="5.7" height="6.076" fill="#3b3e9c" stroke="#8a8a8a" stroke-width="0.5"/>
<rect x="391.0" y="419.35" width="5.7" height="6.076" fill="#b5283a" stroke="#8a8a8a" stroke-width="0.5"/>
<rect x="398.0" y="419.35" width="5.7" height="6.076" fill="#f3ebba" stroke="#8a8a8a" stroke-width="0.5"/>
<rect x="405.0" y="419.35" width="5.7" height="6.076" fill="#3b3e9c" stroke="#8a8a8a" stroke-width="0.5"/>
<rect x="391.0" y="425.42" width="5.7" height="6.076" fill="#f3ebba" stroke="#8a8a8a" stroke-width="0.5"/>
<rect x="398.0" y="425.42" width="5.7" height="6.076" fill="#b5283a" stroke="#8a8a8a" stroke-width="0.5"/>
<rect x="405.0" y="425.42" width="5.7" height="6.076" fill="#3b3e9c" stroke="#8a8a8a" stroke-width="0.5"/>
<text transform="translate(390.2,278.2) rotate(-45)" font-size="6.2" fill="#333" font-family="Liberation Sans, sans-serif">Yp</text>
<text transform="translate(398.2,278.2) rotate(-45)" font-size="6.2" fill="#333" font-family="Liberation Sans, sans-serif">T3E</text>
<text transform="translate(406.8,278.2) rotate(-45)" font-size="6.2" fill="#333" font-family="Liberation Sans, sans-serif">UI</text>
<text x="440.1" y="9.9" font-size="12.4" fill="#222" font-family="Liberation Sans, sans-serif">(e)</text>
<rect x="464.40" y="30.40" width="55.17" height="6.89" fill="#5a94c8" shape-rendering="crispEdges"/>
<rect x="464.40" y="36.99" width="55.17" height="6.89" fill="#5592c7" shape-rendering="crispEdges"/>
<rect x="464.40" y="43.58" width="55.17" height="6.89" fill="#4f8dc4" shape-rendering="crispEdges"/>
<rect x="464.40" y="50.16" width="55.17" height="6.89" fill="#5592c7" shape-rendering="crispEdges"/>
<rect x="519.27" y="30.40" width="55.17" height="6.89" fill="#d6423b" shape-rendering="crispEdges"/>
<rect x="519.27" y="36.99" width="55.17" height="6.89" fill="#d43f3a" shape-rendering="crispEdges"/>
<rect x="519.27" y="43.58" width="55.17" height="6.89" fill="#d6433c" shape-rendering="crispEdges"/>
<rect x="519.27" y="50.16" width="55.17" height="6.89" fill="#d4403a" shape-rendering="crispEdges"/>
<rect x="574.13" y="30.40" width="54.87" height="6.89" fill="#e8f0f6" shape-rendering="crispEdges"/>
<rect x="574.13" y="36.99" width="54.87" height="6.89" fill="#e5eef5" shape-rendering="crispEdges"/>
<rect x="574.13" y="43.58" width="54.87" height="6.89" fill="#e9f1f7" shape-rendering="crispEdges"/>
<rect x="574.13" y="50.16" width="54.87" height="6.89" fill="#e4edf4" shape-rendering="crispEdges"/>
<rect x="464.40" y="56.75" width="55.17" height="6.55" fill="#72a6d2" shape-rendering="crispEdges"/>
<rect x="519.27" y="56.75" width="55.17" height="6.55" fill="#cd2e33" shape-rendering="crispEdges"/>
<rect x="574.13" y="56.75" width="54.87" height="6.55" fill="#d3e4f0" shape-rendering="crispEdges"/>
<rect x="464.40" y="63.00" width="55.17" height="6.55" fill="#4584bf" shape-rendering="crispEdges"/>
<rect x="519.27" y="63.00" width="55.17" height="6.55" fill="#dc5545" shape-rendering="crispEdges"/>
<rect x="574.13" y="63.00" width="54.87" height="3.42" fill="#fbf2ee" shape-rendering="crispEdges"/>
<rect x="574.13" y="66.12" width="54.87" height="3.42" fill="#f7f8fa" shape-rendering="crispEdges"/>
<rect x="464.40" y="69.25" width="55.17" height="5.30" fill="#3373b3" shape-rendering="crispEdges"/>
<rect x="464.40" y="74.25" width="55.17" height="5.30" fill="#3272b2" shape-rendering="crispEdges"/>
<rect x="464.40" y="79.25" width="55.17" height="5.30" fill="#2f70b1" shape-rendering="crispEdges"/>
<rect x="464.40" y="84.25" width="55.17" height="5.30" fill="#3272b2" shape-rendering="crispEdges"/>
<rect x="519.27" y="69.25" width="55.17" height="5.30" fill="#e3654f" shape-rendering="crispEdges"/>
<rect x="519.27" y="74.25" width="55.17" height="5.30" fill="#e06049" shape-rendering="crispEdges"/>
<rect x="519.27" y="79.25" width="55.17" height="5.30" fill="#e5735a" shape-rendering="crispEdges"/>
<rect x="519.27" y="84.25" width="55.17" height="5.30" fill="#e26a52" shape-rendering="crispEdges"/>
<rect x="574.13" y="69.25" width="54.87" height="5.30" fill="#fce4d8" shape-rendering="crispEdges"/>
<rect x="574.13" y="74.25" width="54.87" height="5.30" fill="#f9cbb5" shape-rendering="crispEdges"/>
<rect x="574.13" y="79.25" width="54.87" height="5.30" fill="#fbd9c8" shape-rendering="crispEdges"/>
<rect x="574.13" y="84.25" width="54.87" height="5.30" fill="#f8c8b2" shape-rendering="crispEdges"/>
<rect x="464.40" y="89.25" width="55.17" height="17.80" fill="#2e6fb0" shape-rendering="crispEdges"/>
<rect x="519.27" y="89.25" width="55.17" height="6.13" fill="#f3a98a" shape-rendering="crispEdges"/>
<rect x="519.27" y="95.08" width="55.17" height="6.13" fill="#f1a080" shape-rendering="crispEdges"/>
<rect x="519.27" y="100.92" width="55.17" height="6.13" fill="#f4ae90" shape-rendering="crispEdges"/>
<rect x="574.13" y="89.25" width="54.87" height="6.13" fill="#f09a79" shape-rendering="crispEdges"/>
<rect x="574.13" y="95.08" width="54.87" height="6.13" fill="#f2a385" shape-rendering="crispEdges"/>
<rect x="574.13" y="100.92" width="54.87" height="6.13" fill="#ef9574" shape-rendering="crispEdges"/>
<rect x="464.40" y="106.75" width="55.17" height="15.80" fill="#2f70b1" shape-rendering="crispEdges"/>
<rect x="519.27" y="106.75" width="55.17" height="8.05" fill="#f9c8b0" shape-rendering="crispEdges"/>
<rect x="519.27" y="114.50" width="55.17" height="8.05" fill="#f8c2a9" shape-rendering="crispEdges"/>
<rect x="574.13" y="106.75" width="54.87" height="8.05" fill="#ea7c60" shape-rendering="crispEdges"/>
<rect x="574.13" y="114.50" width="54.87" height="8.05" fill="#e8775b" shape-rendering="crispEdges"/>
<rect x="464.40" y="122.25" width="55.17" height="4.55" fill="#c8def0" shape-rendering="crispEdges"/>
<rect x="464.40" y="126.50" width="55.17" height="4.55" fill="#a3cae2" shape-rendering="crispEdges"/>
<rect x="464.40" y="130.75" width="55.17" height="4.55" fill="#b5d4e8" shape-rendering="crispEdges"/>
<rect x="464.40" y="135.00" width="55.17" height="4.55" fill="#98c4df" shape-rendering="crispEdges"/>
<rect x="519.27" y="122.25" width="55.17" height="17.30" fill="#cc2f33" shape-rendering="crispEdges"/>
<rect x="574.13" y="122.25" width="54.87" height="4.55" fill="#5d98ca" shape-rendering="crispEdges"/>
<rect x="574.13" y="126.50" width="54.87" height="4.55" fill="#7aafd6" shape-rendering="crispEdges"/>
<rect x="574.13" y="130.75" width="54.87" height="4.55" fill="#87b9da" shape-rendering="crispEdges"/>
<rect x="574.13" y="135.00" width="54.87" height="4.55" fill="#6ea6d0" shape-rendering="crispEdges"/>
<rect x="464.40" y="139.25" width="55.17" height="4.88" fill="#5d98ca" shape-rendering="crispEdges"/>
<rect x="464.40" y="143.83" width="55.17" height="4.88" fill="#6da4d0" shape-rendering="crispEdges"/>
<rect x="464.40" y="148.42" width="55.17" height="4.88" fill="#8dbfdc" shape-rendering="crispEdges"/>
<rect x="519.27" y="139.25" width="55.17" height="14.05" fill="#cc2f33" shape-rendering="crispEdges"/>
<rect x="574.13" y="139.25" width="54.87" height="4.88" fill="#b8d6e9" shape-rendering="crispEdges"/>
<rect x="574.13" y="143.83" width="54.87" height="4.88" fill="#a0c9e1" shape-rendering="crispEdges"/>
<rect x="574.13" y="148.42" width="54.87" height="4.88" fill="#8ebedb" shape-rendering="crispEdges"/>
<rect x="464.40" y="153.00" width="55.17" height="4.88" fill="#fad3c0" shape-rendering="crispEdges"/>
<rect x="464.40" y="157.58" width="55.17" height="4.88" fill="#fbe0d2" shape-rendering="crispEdges"/>
<rect x="464.40" y="162.17" width="55.17" height="4.88" fill="#f7c2a9" shape-rendering="crispEdges"/>
<rect x="519.27" y="153.00" width="55.17" height="4.88" fill="#e26a52" shape-rendering="crispEdges"/>
<rect x="519.27" y="157.58" width="55.17" height="4.88" fill="#dd5c48" shape-rendering="crispEdges"/>
<rect x="519.27" y="162.17" width="55.17" height="4.88" fill="#e26750" shape-rendering="crispEdges"/>
<rect x="574.13" y="153.00" width="54.87" height="7.17" fill="#3072b2" shape-rendering="crispEdges"/>
<rect x="574.13" y="159.88" width="54.87" height="7.17" fill="#2e6fb0" shape-rendering="crispEdges"/>
<rect x="464.40" y="166.75" width="55.17" height="5.39" fill="#3272b2" shape-rendering="crispEdges"/>
<rect x="464.40" y="171.84" width="55.17" height="5.39" fill="#3a7ab8" shape-rendering="crispEdges"/>
<rect x="464.40" y="176.94" width="55.17" height="5.39" fill="#4584bf" shape-rendering="crispEdges"/>
<rect x="464.40" y="182.03" width="55.17" height="5.39" fill="#3d7dba" shape-rendering="crispEdges"/>
<rect x="464.40" y="187.12" width="55.17" height="5.39" fill="#4f8dc4" shape-rendering="crispEdges"/>
<rect x="464.40" y="192.22" width="55.17" height="5.39" fill="#4a89c1" shape-rendering="crispEdges"/>
<rect x="464.40" y="197.31" width="55.17" height="5.39" fill="#5592c7" shape-rendering="crispEdges"/>
<rect x="464.40" y="202.41" width="55.17" height="5.39" fill="#4f8dc4" shape-rendering="crispEdges"/>
<rect x="519.27" y="166.75" width="55.17" height="5.39" fill="#fbd6c4" shape-rendering="crispEdges"/>
<rect x="519.27" y="171.84" width="55.17" height="5.39" fill="#fde8de" shape-rendering="crispEdges"/>
<rect x="519.27" y="176.94" width="55.17" height="5.39" fill="#fbf5f2" shape-rendering="crispEdges"/>
<rect x="519.27" y="182.03" width="55.17" height="5.39" fill="#f8f8f9" shape-rendering="crispEdges"/>
<rect x="519.27" y="187.12" width="55.17" height="5.39" fill="#eef4f8" shape-rendering="crispEdges"/>
<rect x="519.27" y="192.22" width="55.17" height="5.39" fill="#dde9f2" shape-rendering="crispEdges"/>
<rect x="519.27" y="197.31" width="55.17" height="5.39" fill="#d0e3ef" shape-rendering="crispEdges"/>
<rect x="519.27" y="202.41" width="55.17" height="5.39" fill="#c6deec" shape-rendering="crispEdges"/>
<rect x="574.13" y="166.75" width="54.87" height="5.39" fill="#d6473d" shape-rendering="crispEdges"/>
<rect x="574.13" y="171.84" width="54.87" height="5.39" fill="#d23e39" shape-rendering="crispEdges"/>
<rect x="574.13" y="176.94" width="54.87" height="5.39" fill="#cf3935" shape-rendering="crispEdges"/>
<rect x="574.13" y="182.03" width="54.87" height="5.39" fill="#cc2f33" shape-rendering="crispEdges"/>
<rect x="574.13" y="187.12" width="54.87" height="5.39" fill="#cd3234" shape-rendering="crispEdges"/>
<rect x="574.13" y="192.22" width="54.87" height="5.39" fill="#cc2f33" shape-rendering="crispEdges"/>
<rect x="574.13" y="197.31" width="54.87" height="5.39" fill="#cc2f33" shape-rendering="crispEdges"/>
<rect x="574.13" y="202.41" width="54.87" height="5.39" fill="#cc2f33" shape-rendering="crispEdges"/>
<rect x="464.40" y="207.50" width="55.17" height="11.30" fill="#b9d6e9" shape-rendering="crispEdges"/>
<rect x="519.27" y="207.50" width="55.17" height="11.30" fill="#70a8d1" shape-rendering="crispEdges"/>
<rect x="574.13" y="207.50" width="54.87" height="11.30" fill="#cc2f33" shape-rendering="crispEdges"/>
<rect x="464.40" y="218.50" width="55.17" height="7.22" fill="#94c2de" shape-rendering="crispEdges"/>
<rect x="464.40" y="225.42" width="55.17" height="7.22" fill="#8bbcda" shape-rendering="crispEdges"/>
<rect x="464.40" y="232.33" width="55.17" height="7.22" fill="#96c3de" shape-rendering="crispEdges"/>
<rect x="519.27" y="218.50" width="55.17" height="7.22" fill="#a9cde3" shape-rendering="crispEdges"/>
<rect x="519.27" y="225.42" width="55.17" height="7.22" fill="#a0c8e1" shape-rendering="crispEdges"/>
<rect x="519.27" y="232.33" width="55.17" height="7.22" fill="#aed0e5" shape-rendering="crispEdges"/>
<rect x="574.13" y="218.50" width="54.87" height="21.05" fill="#cc2f33" shape-rendering="crispEdges"/>
<rect x="464.40" y="239.25" width="55.17" height="9.05" fill="#6aa3cf" shape-rendering="crispEdges"/>
<rect x="519.27" y="239.25" width="55.17" height="9.05" fill="#b9d7e9" shape-rendering="crispEdges"/>
<rect x="574.13" y="239.25" width="54.87" height="9.05" fill="#cc2f33" shape-rendering="crispEdges"/>
<rect x="464.40" y="248.00" width="55.17" height="4.05" fill="#f4a582" shape-rendering="crispEdges"/>
<rect x="464.40" y="251.75" width="55.17" height="4.05" fill="#e8775b" shape-rendering="crispEdges"/>
<rect x="464.40" y="255.50" width="55.17" height="4.05" fill="#f7bba0" shape-rendering="crispEdges"/>
<rect x="519.27" y="248.00" width="55.17" height="11.55" fill="#2f6fb0" shape-rendering="crispEdges"/>
<rect x="574.13" y="248.00" width="54.87" height="4.05" fill="#f7b698" shape-rendering="crispEdges"/>
<rect x="574.13" y="251.75" width="54.87" height="4.05" fill="#fde6d9" shape-rendering="crispEdges"/>
<rect x="574.13" y="255.50" width="54.87" height="4.05" fill="#e8775b" shape-rendering="crispEdges"/>
<rect x="464.40" y="259.25" width="55.17" height="6.05" fill="#fbd7c4" shape-rendering="crispEdges"/>
<rect x="519.27" y="259.25" width="55.17" height="6.05" fill="#2f6fb0" shape-rendering="crispEdges"/>
<rect x="574.13" y="259.25" width="54.87" height="6.05" fill="#e8775b" shape-rendering="crispEdges"/>
<rect x="464.40" y="265.00" width="55.17" height="5.05" fill="#eff5f9" shape-rendering="crispEdges"/>
<rect x="464.40" y="269.75" width="55.17" height="5.05" fill="#f6f9fb" shape-rendering="crispEdges"/>
<rect x="464.40" y="274.50" width="55.17" height="5.05" fill="#fdfdfd" shape-rendering="crispEdges"/>
<rect x="519.27" y="265.00" width="55.17" height="7.42" fill="#4f8dc4" shape-rendering="crispEdges"/>
<rect x="519.27" y="272.12" width="55.17" height="7.42" fill="#5592c7" shape-rendering="crispEdges"/>
<rect x="574.13" y="265.00" width="54.87" height="7.42" fill="#d8483d" shape-rendering="crispEdges"/>
<rect x="574.13" y="272.12" width="54.87" height="7.42" fill="#dc5040" shape-rendering="crispEdges"/>
<rect x="464.40" y="279.25" width="55.17" height="15.30" fill="#cc2f33" shape-rendering="crispEdges"/>
<rect x="519.27" y="279.25" width="55.17" height="7.80" fill="#74abd2" shape-rendering="crispEdges"/>
<rect x="519.27" y="286.75" width="55.17" height="7.80" fill="#9dc7e0" shape-rendering="crispEdges"/>
<rect x="574.13" y="279.25" width="54.87" height="7.80" fill="#d3e5f0" shape-rendering="crispEdges"/>
<rect x="574.13" y="286.75" width="54.87" height="7.80" fill="#b7d5e8" shape-rendering="crispEdges"/>
<rect x="464.40" y="294.25" width="55.17" height="22.05" fill="#cc2f33" shape-rendering="crispEdges"/>
<rect x="519.27" y="294.25" width="55.17" height="11.18" fill="#5a97c9" shape-rendering="crispEdges"/>
<rect x="519.27" y="305.12" width="55.17" height="11.18" fill="#68a1ce" shape-rendering="crispEdges"/>
<rect x="574.13" y="294.25" width="54.87" height="11.18" fill="#dbe9f2" shape-rendering="crispEdges"/>
<rect x="574.13" y="305.12" width="54.87" height="11.18" fill="#d6e6f1" shape-rendering="crispEdges"/>
<rect x="464.40" y="316.00" width="55.17" height="5.55" fill="#d84a3e" shape-rendering="crispEdges"/>
<rect x="464.40" y="321.25" width="55.17" height="5.55" fill="#e05a47" shape-rendering="crispEdges"/>
<rect x="464.40" y="326.50" width="55.17" height="5.55" fill="#dc5243" shape-rendering="crispEdges"/>
<rect x="519.27" y="316.00" width="55.17" height="8.18" fill="#3a7ab8" shape-rendering="crispEdges"/>
<rect x="519.27" y="323.88" width="55.17" height="8.18" fill="#3576b5" shape-rendering="crispEdges"/>
<rect x="574.13" y="316.00" width="54.87" height="8.18" fill="#fde8de" shape-rendering="crispEdges"/>
<rect x="574.13" y="323.88" width="54.87" height="8.18" fill="#f5f8fb" shape-rendering="crispEdges"/>
<rect x="464.40" y="331.75" width="55.17" height="31.55" fill="#cc2f33" shape-rendering="crispEdges"/>
<rect x="519.27" y="331.75" width="55.17" height="8.11" fill="#b0d2e6" shape-rendering="crispEdges"/>
<rect x="519.27" y="339.56" width="55.17" height="8.11" fill="#9ec8e0" shape-rendering="crispEdges"/>
<rect x="519.27" y="347.38" width="55.17" height="8.11" fill="#8fbfdc" shape-rendering="crispEdges"/>
<rect x="519.27" y="355.19" width="55.17" height="8.11" fill="#a5cbe3" shape-rendering="crispEdges"/>
<rect x="574.13" y="331.75" width="54.87" height="10.72" fill="#94c2de" shape-rendering="crispEdges"/>
<rect x="574.13" y="342.17" width="54.87" height="10.72" fill="#8bbcda" shape-rendering="crispEdges"/>
<rect x="574.13" y="352.58" width="54.87" height="10.72" fill="#9dc7e0" shape-rendering="crispEdges"/>
<rect x="464.40" y="363.00" width="55.17" height="6.97" fill="#d23a37" shape-rendering="crispEdges"/>
<rect x="464.40" y="369.67" width="55.17" height="6.97" fill="#e05545" shape-rendering="crispEdges"/>
<rect x="464.40" y="376.33" width="55.17" height="6.97" fill="#d23a37" shape-rendering="crispEdges"/>
<rect x="519.27" y="363.00" width="55.17" height="5.30" fill="#e4eef5" shape-rendering="crispEdges"/>
<rect x="519.27" y="368.00" width="55.17" height="5.30" fill="#f0f5f9" shape-rendering="crispEdges"/>
<rect x="519.27" y="373.00" width="55.17" height="5.30" fill="#fafafa" shape-rendering="crispEdges"/>
<rect x="519.27" y="378.00" width="55.17" height="5.30" fill="#e8f0f6" shape-rendering="crispEdges"/>
<rect x="574.13" y="363.00" width="54.87" height="6.97" fill="#4a89c1" shape-rendering="crispEdges"/>
<rect x="574.13" y="369.67" width="54.87" height="6.97" fill="#3f80bb" shape-rendering="crispEdges"/>
<rect x="574.13" y="376.33" width="54.87" height="6.97" fill="#5694c8" shape-rendering="crispEdges"/>
<rect x="464.40" y="383.00" width="55.17" height="24.05" fill="#cc2f33" shape-rendering="crispEdges"/>
<rect x="519.27" y="383.00" width="55.17" height="8.22" fill="#c5ddec" shape-rendering="crispEdges"/>
<rect x="519.27" y="390.92" width="55.17" height="8.22" fill="#bcd8ea" shape-rendering="crispEdges"/>
<rect x="519.27" y="398.83" width="55.17" height="8.22" fill="#a9cde3" shape-rendering="crispEdges"/>
<rect x="574.13" y="383.00" width="54.87" height="8.22" fill="#70a8d1" shape-rendering="crispEdges"/>
<rect x="574.13" y="390.92" width="54.87" height="8.22" fill="#5d99ca" shape-rendering="crispEdges"/>
<rect x="574.13" y="398.83" width="54.87" height="8.22" fill="#6aa3cf" shape-rendering="crispEdges"/>
<rect x="464.40" y="406.75" width="55.17" height="5.61" fill="#d9503f" shape-rendering="crispEdges"/>
<rect x="464.40" y="412.06" width="55.17" height="5.61" fill="#df5f4a" shape-rendering="crispEdges"/>
<rect x="464.40" y="417.38" width="55.17" height="5.61" fill="#e36e55" shape-rendering="crispEdges"/>
<rect x="464.40" y="422.69" width="55.17" height="5.61" fill="#f09a7a" shape-rendering="crispEdges"/>
<rect x="519.27" y="406.75" width="55.17" height="5.61" fill="#fdf0e8" shape-rendering="crispEdges"/>
<rect x="519.27" y="412.06" width="55.17" height="5.61" fill="#fde6da" shape-rendering="crispEdges"/>
<rect x="519.27" y="417.38" width="55.17" height="5.61" fill="#fbd5c3" shape-rendering="crispEdges"/>
<rect x="519.27" y="422.69" width="55.17" height="5.61" fill="#f8c4ab" shape-rendering="crispEdges"/>
<rect x="574.13" y="406.75" width="54.87" height="5.61" fill="#3b7bb8" shape-rendering="crispEdges"/>
<rect x="574.13" y="412.06" width="54.87" height="5.61" fill="#3878b6" shape-rendering="crispEdges"/>
<rect x="574.13" y="417.38" width="54.87" height="5.61" fill="#3373b3" shape-rendering="crispEdges"/>
<rect x="574.13" y="422.69" width="54.87" height="5.61" fill="#3b7bb8" shape-rendering="crispEdges"/>
<path d="M631.2 30.70h9 M631.2 32.05h8 M631.2 33.41h9.5 M631.2 34.76h11 M631.2 36.11h7 M631.2 37.47h7.5 M631.2 38.82h10 M631.2 40.17h7.5 M631.2 41.52h9 M631.2 42.88h10.5 M631.2 44.23h7 M631.2 45.58h10 M631.2 46.94h8.5 M631.2 48.29h7 M631.2 49.64h7.5 M631.2 51.00h9.5 M631.2 52.35h9.5 M631.2 53.70h7.5 M631.2 55.05h8.5 M631.2 56.41h7.5 M631.2 57.76h10 M631.2 59.11h9.5 M631.2 60.47h7 M631.2 61.82h10.5 M631.2 63.17h7.5 M631.2 64.53h8.5 M631.2 65.88h11 M631.2 67.23h11 M631.2 68.58h10.5 M631.2 69.94h7 M631.2 71.29h10.5 M631.2 72.64h10.5 M631.2 74.00h9.5 M631.2 75.35h7 M631.2 76.70h8.5 M631.2 78.05h7 M631.2 79.41h10 M631.2 80.76h8 M631.2 82.11h9 M631.2 83.47h9.5 M631.2 84.82h8 M631.2 86.17h10 M631.2 87.53h7.5 M631.2 88.88h10.5 M631.2 90.23h9 M631.2 91.58h10 M631.2 92.94h11 M631.2 94.29h8 M631.2 95.64h7.5 M631.2 97.00h10.5 M631.2 98.35h10.5 M631.2 99.70h11 M631.2 101.06h8.5 M631.2 102.41h9 M631.2 103.76h7.5 M631.2 105.11h10 M631.2 106.47h12 M631.2 107.82h7.5 M631.2 109.17h10.5 M631.2 110.53h7 M631.2 111.88h10.5 M631.2 113.23h8.5 M631.2 114.59h9.5 M631.2 115.94h11 M631.2 117.29h10 M631.2 118.64h9.5 M631.2 120.00h9 M631.2 121.35h9.5 M631.2 122.70h10.5 M631.2 124.06h9.5 M631.2 125.41h9 M631.2 126.76h9 M631.2 128.12h8.5 M631.2 129.47h8 M631.2 130.82h12 M631.2 132.17h8.5 M631.2 133.53h7.5 M631.2 134.88h10.5 M631.2 136.23h9 M631.2 137.59h10 M631.2 138.94h9.5 M631.2 140.29h9 M631.2 141.65h12 M631.2 143.00h9.5 M631.2 144.35h9 M631.2 145.70h10.5 M631.2 147.06h7.5 M631.2 148.41h7.5 M631.2 149.76h10 M631.2 151.12h9.5 M631.2 152.47h8 M631.2 153.82h9 M631.2 155.18h8 M631.2 156.53h9.5 M631.2 157.88h9.5 M631.2 159.23h7 M631.2 160.59h11 M631.2 161.94h7.5 M631.2 163.29h10 M631.2 164.65h10.5 M631.2 166.00h9 M631.2 167.35h9 M631.2 168.71h12 M631.2 170.06h9 M631.2 171.41h10.5 M631.2 172.77h9.5 M631.2 174.12h10.5 M631.2 175.47h9.5 M631.2 176.82h7.5 M631.2 178.18h7.5 M631.2 179.53h9 M631.2 180.88h9.5 M631.2 182.24h12 M631.2 183.59h11 M631.2 184.94h7.5 M631.2 186.30h7 M631.2 187.65h12 M631.2 189.00h12 M631.2 190.35h9 M631.2 191.71h11 M631.2 193.06h10.5 M631.2 194.41h11 M631.2 195.77h9.5 M631.2 197.12h9 M631.2 198.47h12 M631.2 199.83h9.5 M631.2 201.18h11 M631.2 202.53h9 M631.2 203.88h7 M631.2 205.24h9.5 M631.2 206.59h9 M631.2 207.94h8 M631.2 209.30h10.5 M631.2 210.65h7.5 M631.2 212.00h9.5 M631.2 213.36h7 M631.2 214.71h8.5 M631.2 216.06h9 M631.2 217.41h8 M631.2 218.77h12 M631.2 220.12h8.5 M631.2 221.47h9.5 M631.2 222.83h9.5 M631.2 224.18h9.5 M631.2 225.53h7.5 M631.2 226.89h8 M631.2 228.24h9.5 M631.2 229.59h9.5 M631.2 230.94h10 M631.2 232.30h9 M631.2 233.65h8 M631.2 235.00h9.5 M631.2 236.36h10 M631.2 237.71h9 M631.2 239.06h12 M631.2 240.42h9.5 M631.2 241.77h9 M631.2 243.12h11 M631.2 244.47h9.5 M631.2 245.83h8.5 M631.2 247.18h8 M631.2 248.53h7.5 M631.2 249.89h8 M631.2 251.24h8 M631.2 252.59h8.5 M631.2 253.95h11 M631.2 255.30h8.5 M631.2 256.65h7 M631.2 258.00h9.5 M631.2 259.36h10.5 M631.2 260.71h8 M631.2 262.06h9 M631.2 263.42h9 M631.2 264.77h7 M631.2 266.12h8 M631.2 267.48h9.5 M631.2 268.83h10 M631.2 270.18h9 M631.2 271.53h10.5 M631.2 272.89h10.5 M631.2 274.24h9 M631.2 275.59h8 M631.2 276.95h12 M631.2 278.30h10 M631.2 279.65h10.5 M631.2 281.01h11 M631.2 282.36h11 M631.2 283.71h12 M631.2 285.06h7 M631.2 286.42h9.5 M631.2 287.77h11 M631.2 289.12h10 M631.2 290.48h9.5 M631.2 291.83h9.5 M631.2 293.18h9.5 M631.2 294.54h9.5 M631.2 295.89h7.5 M631.2 297.24h9.5 M631.2 298.59h11 M631.2 299.95h9.5 M631.2 301.30h7 M631.2 302.65h8.5 M631.2 304.01h7.5 M631.2 305.36h8.5 M631.2 306.71h9.5 M631.2 308.07h8 M631.2 309.42h7.5 M631.2 310.77h9 M631.2 312.12h10.5 M631.2 313.48h7 M631.2 314.83h7.5 M631.2 316.18h7 M631.2 317.54h10.5 M631.2 318.89h8 M631.2 320.24h10 M631.2 321.60h7.5 M631.2 322.95h9 M631.2 324.30h10.5 M631.2 325.65h7 M631.2 327.01h7.5 M631.2 328.36h8.5 M631.2 329.71h10.5 M631.2 331.07h9.5 M631.2 332.42h8 M631.2 333.77h11 M631.2 335.13h9 M631.2 336.48h9 M631.2 337.83h10.5 M631.2 339.18h9 M631.2 340.54h9.5 M631.2 341.89h7.5 M631.2 343.24h7.5 M631.2 344.60h9.5 M631.2 345.95h9.5 M631.2 347.30h9.5 M631.2 348.66h9.5 M631.2 350.01h9 M631.2 351.36h7.5 M631.2 352.71h8 M631.2 354.07h7.5 M631.2 355.42h12 M631.2 356.77h9 M631.2 358.13h12 M631.2 359.48h9 M631.2 360.83h9.5 M631.2 362.19h12 M631.2 363.54h8 M631.2 364.89h10 M631.2 366.24h7 M631.2 367.60h8.5 M631.2 368.95h10 M631.2 370.30h9 M631.2 371.66h8 M631.2 373.01h12 M631.2 374.36h10 M631.2 375.72h7 M631.2 377.07h10 M631.2 378.42h9 M631.2 379.77h11 M631.2 381.13h7.5 M631.2 382.48h12 M631.2 383.83h9 M631.2 385.19h10 M631.2 386.54h9 M631.2 387.89h8 M631.2 389.25h9 M631.2 390.60h8.5 M631.2 391.95h10 M631.2 393.30h10 M631.2 394.66h10 M631.2 396.01h9 M631.2 397.36h11 M631.2 398.72h8.5 M631.2 400.07h10.5 M631.2 401.42h8.5 M631.2 402.78h8.5 M631.2 404.13h9.5 M631.2 405.48h12 M631.2 406.83h8.5 M631.2 408.19h8.5 M631.2 409.54h10 M631.2 410.89h9.5 M631.2 412.25h9 M631.2 413.60h12 M631.2 414.95h7 M631.2 416.31h7 M631.2 417.66h9 M631.2 419.01h9.5 M631.2 420.36h9 M631.2 421.72h8.5 M631.2 423.07h12 M631.2 424.42h10.5 M631.2 425.78h9 M631.2 427.13h9.5" stroke="#adadad" stroke-width="0.9" fill="none"/>
<g stroke="#777" stroke-width="0.9" fill="none">
<path d="M490.8 28.7 V19.1 H573.5 V21.9"/>
<path d="M545.6 28.7 V21.9 H600.9 V28.7"/>
</g>
<g stroke="#8a8a8a" stroke-width="0.75" fill="none">
<path d="M459.6 365.4 H439.3 V178.8 H450.2"/>
<path d="M459 120.3 H450.2 V235.8 H459.6"/>
<path d="M462.3 89.7 H459 V152 H462.3"/>
<path d="M462.3 208.3 H459.6 V265.2 H462.3"/>
<path d="M462.5 328 H459.6 V404.5 H462.5"/>
<path d="M463.6 58 H462.3 V120 H463.6" stroke-width="0.6"/>
<path d="M464.2 32 H463.3 V58 H464.2" stroke-width="0.6"/>
<path d="M464.2 72 H463.2 V110 H464.2" stroke-width="0.6"/>
<path d="M463.6 128 H462.3 V166 H463.6" stroke-width="0.6"/>
<path d="M464.2 124 H463.2 V140 H464.2" stroke-width="0.6"/>
<path d="M464.2 150 H463.2 V166 H464.2" stroke-width="0.6"/>
<path d="M463.6 172 H462.3 V240 H463.6" stroke-width="0.6"/>
<path d="M464.2 170 H463.2 V200 H464.2" stroke-width="0.6"/>
<path d="M464.2 210 H463.2 V240 H464.2" stroke-width="0.6"/>
<path d="M463.6 250 H462.3 V276 H463.6" stroke-width="0.6"/>
<path d="M463.6 283 H462.3 V355 H463.6" stroke-width="0.6"/>
<path d="M464.2 283 H463.2 V315 H464.2" stroke-width="0.6"/>
<path d="M464.2 330 H463.2 V355 H464.2" stroke-width="0.6"/>
<path d="M463.6 379 H462.5 V427.5 H463.6" stroke-width="0.6"/>
<path d="M464.2 360 H463.2 V380 H464.2" stroke-width="0.6"/>
<path d="M464.2 395 H463.2 V427 H464.2" stroke-width="0.6"/>
</g>
<defs><linearGradient id="rdbu" x1="0" y1="0" x2="0" y2="1"><stop offset="0" stop-color="#6a0a24"/><stop offset="0.15" stop-color="#b2182b"/><stop offset="0.3" stop-color="#d6604d"/><stop offset="0.4" stop-color="#f4a582"/><stop offset="0.47" stop-color="#f7f4f2"/><stop offset="0.55" stop-color="#d1e5f0"/><stop offset="0.65" stop-color="#92c5de"/><stop offset="0.78" stop-color="#4393c3"/><stop offset="0.88" stop-color="#2166ac"/><stop offset="1" stop-color="#1f3c6e"/></linearGradient></defs>
<rect x="651.7" y="30.1" width="5" height="75.2" fill="url(#rdbu)"/>
<text x="662.9" y="36.8" font-size="7.3" fill="#333" font-family="Liberation Sans, sans-serif">High</text>
<text x="662.9" y="45.7" font-size="7.3" fill="#333" font-family="Liberation Sans, sans-serif">Abundance</text>
<text x="662.9" y="95.5" font-size="7.3" fill="#333" font-family="Liberation Sans, sans-serif">Low</text>
<text x="662.9" y="104.3" font-size="7.3" fill="#333" font-family="Liberation Sans, sans-serif">Abundance</text>
<text x="491.2" y="444" font-size="11.4" text-anchor="middle" fill="#222" font-family="Liberation Sans, sans-serif">UI</text>
<text x="547.6" y="444" font-size="11.4" text-anchor="middle" fill="#222" font-family="Liberation Sans, sans-serif">Yp</text>
<text x="604.0" y="444" font-size="11.4" text-anchor="middle" fill="#222" font-family="Liberation Sans, sans-serif">T3E</text>
</svg></body></html>
